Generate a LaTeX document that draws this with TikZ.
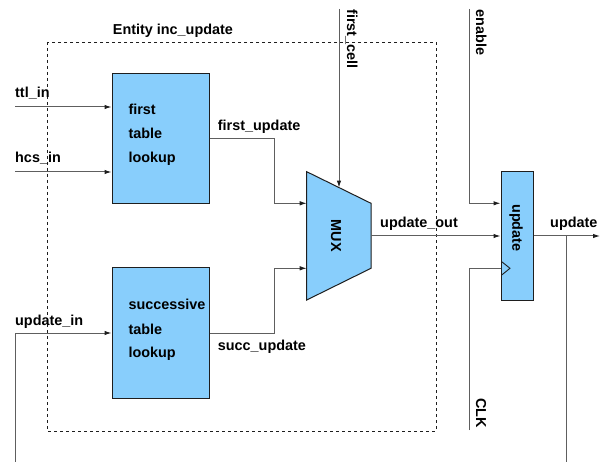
\documentclass[tikz,border=0pt]{standalone}
\usepackage{fontspec}
\setmainfont{Liberation Sans}
\usetikzlibrary{arrows.meta}
\definecolor{blockfill}{HTML}{88CEFC}
\definecolor{wire}{HTML}{5E5E5E}
\definecolor{edge}{HTML}{1E1E1E}
\tikzset{
  block/.style={draw=edge, line width=1pt, fill=blockfill, inner sep=0pt},
  conn/.style={draw=wire, line width=1pt},
  sig/.style={conn, -{Latex[length=7pt,width=4.5pt,color=edge]}},
  lbl/.style={font=\bfseries\fontsize{14.4}{16}\selectfont, inner sep=0pt, anchor=base west},
  vlbl/.style={lbl, rotate=-90},
  frame/.style={draw=edge, line width=0.8pt, dash pattern=on 3pt off 3pt},
}
\begin{document}
\begin{tikzpicture}[x=1pt, y=-1pt]
\useasboundingbox (0,0) rectangle (602,462);

% entity frame
\draw[frame] (47,42) rectangle (436,431);
\node[lbl] (entity) at (112.7,34.3) {Entity inc\_update};

% lookup tables
\node[block, minimum width=97pt, minimum height=130pt] (tab1) at (160.5,139) {};
\node[block, minimum width=97pt, minimum height=130pt] (tab2) at (160.5,333) {};
\node[lbl] (t1a) at (128.3,114.3) {first};
\node[lbl] (t1b) at (128.3,139) {table};
\node[lbl] (t1c) at (128.3,162.3) {lookup};
\node[lbl] (t2a) at (128.3,309.3) {successive};
\node[lbl] (t2b) at (128.3,334) {table};
\node[lbl] (t2c) at (128.3,357.7) {lookup};

% multiplexer
\draw[block] (306.7,171.7) -- (371,203.3) -- (371,268.3) -- (306.7,300) -- cycle;
\coordinate (muxin1) at (306.7,203.3);
\coordinate (muxin2) at (306.7,268.3);
\coordinate (muxsel) at (339,187.6);
\coordinate (muxout) at (371,236);
\node[lbl, rotate=-90, anchor=center] (muxlbl) at (336,236) {MUX};

% output register
\node[block, minimum width=32pt, minimum height=129pt] (reg) at (517,236.2) {};
\node[lbl, rotate=-90, anchor=center] (reglbl) at (516,228) {update};
\coordinate (regen) at (reg.west |- muxin1);
\coordinate (regclk) at (reg.west |- muxin2);
\draw[draw=edge, line width=0.9pt] (501.7,261.7) -- (510,268.3) -- (501.7,275);

% primary inputs
\coordinate (ttl) at (15,107);
\coordinate (hcs) at (15,172);
\coordinate (updin) at (15,462);
\draw[sig] (ttl) -- (tab1.west |- ttl);
\draw[sig] (hcs) -- (tab1.west |- hcs);
\draw[sig] (updin) |- (tab2.west |- 0,333);
\node[lbl] (ttllbl) at (15,97.3) {ttl\_in};
\node[lbl] (hcslbl) at (15,162.7) {hcs\_in};
\node[lbl] (updinlbl) at (15,325) {update\_in};

% table outputs into the multiplexer
\draw[sig] (tab1.east |- 0,139) -- (274,139) |- (muxin1);
\draw[sig] (tab2.east |- 0,333) -- (274,333) |- (muxin2);
\node[lbl] (fulbl) at (217.7,130.7) {first\_update};
\node[lbl] (sulbl) at (217.7,350) {succ\_update};

% select line
\coordinate (fctop) at (339,9);
\draw[sig] (fctop) -- (muxsel);
\node[vlbl] (fclbl) at (347,9.3) {first\_cell};

% multiplexer output to register
\draw[sig] (muxout) -- (reg.west |- muxout);
\node[lbl] (uolbl) at (380,227.7) {update\_out};

% enable and clock
\coordinate (entop) at (469,9);
\coordinate (clkbot) at (469,430);
\draw[sig] (entop) |- (regen);
\draw[conn] (clkbot) |- (regclk);
\node[vlbl] (enlbl) at (476,9.3) {enable};
\node[vlbl] (clklbl) at (476,398) {CLK};

% register output with feedback branch
\coordinate (outend) at (600,236);
\coordinate (fbend) at (566,462);
\draw[sig] (reg.east |- muxout) -- (outend);
\draw[conn] (566,236) -- (fbend);
\node[lbl] (outlbl) at (550,227.7) {update};
\end{tikzpicture}
\end{document}
